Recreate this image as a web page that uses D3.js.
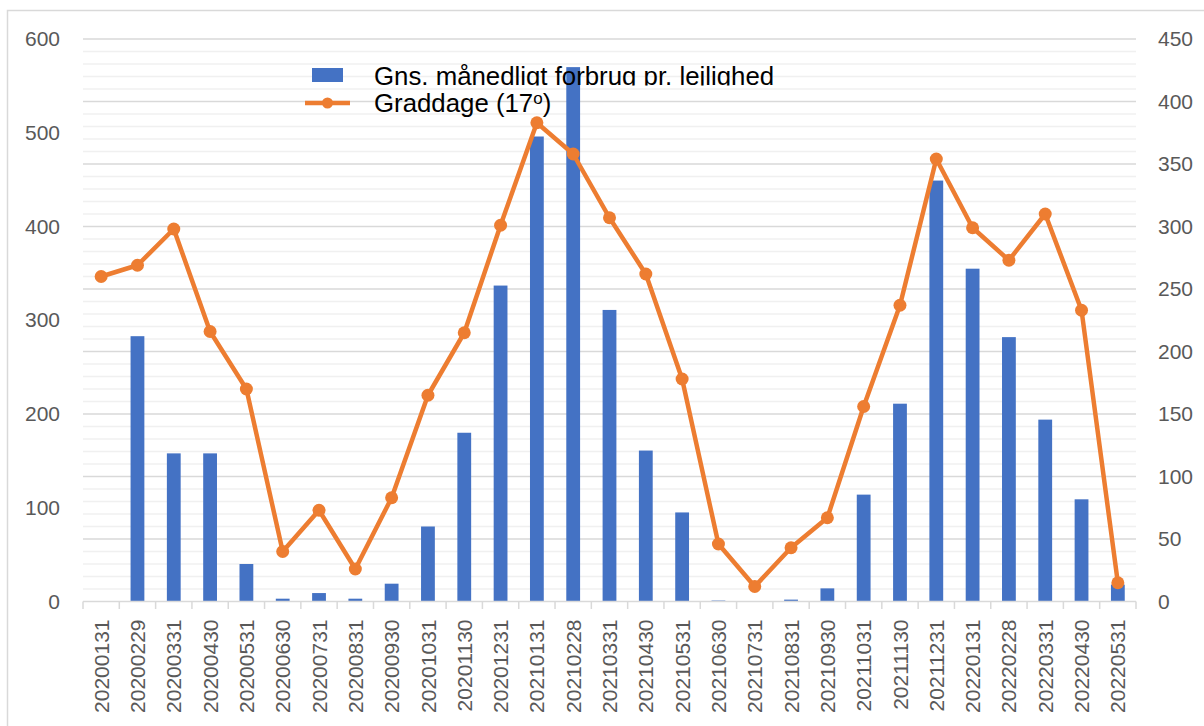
<!DOCTYPE html>
<html>
<head>
<meta charset="utf-8">
<script src="https://cdn.jsdelivr.net/npm/d3@7"></script>
<style>
  body { margin: 0; background: #fff; }
  svg { display: block; font-family: "Liberation Sans", Arial, sans-serif; }
</style>
</head>
<body>
<div id="chart"></div>
<script>
// data
const dates = ["20200131", "20200229", "20200331", "20200430", "20200531", "20200630", "20200731",
    "20200831", "20200930", "20201031", "20201130", "20201231", "20210131", "20210228", "20210331",
    "20210430", "20210531", "20210630", "20210731", "20210831", "20210930", "20211031", "20211130",
    "20211231", "20220131", "20220228", "20220331", "20220430", "20220531"];
const forbrug = [0, 283, 158, 158, 40, 3, 9, 3, 19, 80, 180, 337,
    496, 570, 311, 161, 95, 1, 0, 2, 14, 114, 211, 449,
    355, 282, 194, 109, 18];
const graddage = [260, 269, 298, 216, 170, 40, 73, 26, 83, 165, 215, 301,
    383, 358, 307, 262, 178, 46, 12, 43, 67, 156, 237, 354,
    299, 273, 310, 233, 15];
const leftTicks = [0, 100, 200, 300, 400, 500, 600];
const rightTicks = [0, 50, 100, 150, 200, 250, 300, 350, 400, 450];
const seriesNames = ["Gns. månedligt forbrug pr. lejlighed", "Graddage (17"];

const width = 1204, height = 726;
const margin = {top: 39, right: 68, bottom: 124.5, left: 83};

const svg = d3.select("#chart").append("svg")
    .attr("width", width)
    .attr("height", height);

// outer chart border
svg.append("rect")
    .attr("x", 7.5).attr("y", 10.5)
    .attr("width", width).attr("height", height)
    .attr("fill", "none")
    .attr("stroke", "#d9d9d9")
    .attr("stroke-width", 1.5);

const x = d3.scaleBand()
    .domain(dates)
    .range([margin.left, width - margin.right])
    .paddingInner(0.62)
    .paddingOuter(0.31);

const xb = d3.scaleBand()
    .domain(dates)
    .range([margin.left, width - margin.right]);

const yL = d3.scaleLinear().domain([0, 600]).range([height - margin.bottom, margin.top]);
const yR = d3.scaleLinear().domain([0, 450]).range([height - margin.bottom, margin.top]);

// gridlines follow the secondary axis (minor every 10, major every 50)
svg.append("g")
    .selectAll("line")
    .data(yR.ticks(45).filter(d => d > 0))
    .enter()
    .append("line")
    .attr("x1", margin.left)
    .attr("x2", width - margin.right)
    .attr("y1", d => yR(d))
    .attr("y2", d => yR(d))
    .attr("stroke", d => d % 50 === 0 ? "#d9d9d9" : "#f0f0f0")
    .attr("stroke-width", 1.5);

// bars
svg.append("g")
    .selectAll("rect")
    .data(dates)
    .enter()
    .append("rect")
    .attr("x", d => x(d))
    .attr("width", x.bandwidth())
    .attr("y", (d, i) => yL(forbrug[i]))
    .attr("height", (d, i) => yL(0) - yL(forbrug[i]))
    .attr("fill", "#4472c4");

// x axis line and boundary ticks
const base = yL(0);
svg.append("line")
    .attr("x1", margin.left).attr("x2", width - margin.right)
    .attr("y1", base).attr("y2", base)
    .attr("stroke", "#d9d9d9").attr("stroke-width", 1.5);

svg.append("g")
    .selectAll("line")
    .data(dates.concat(["end"]))
    .enter()
    .append("line")
    .attr("x1", d => d === "end" ? width - margin.right : xb(d))
    .attr("x2", d => d === "end" ? width - margin.right : xb(d))
    .attr("y1", base)
    .attr("y2", base + 7.5)
    .attr("stroke", "#d9d9d9")
    .attr("stroke-width", 1.5);

svg.append("g")
    .selectAll("text")
    .data(dates)
    .enter()
    .append("text")
    .attr("transform", d => "translate(" + (xb(d) + xb.bandwidth() / 2) + "," + (base + 18) + ") rotate(-90)")
    .attr("text-anchor", "end")
    .attr("dy", "0.36em")
    .attr("font-size", 21)
    .attr("fill", "#595959")
    .text(d => d);

// left axis
const leftAxis = svg.append("g")
    .attr("transform", "translate(" + (margin.left - 23) + ",0)")
    .call(d3.axisLeft(yL).tickValues(leftTicks).tickSize(0).tickPadding(0));
leftAxis.select(".domain").remove();
leftAxis.selectAll("text")
    .attr("font-size", 21)
    .attr("font-family", "Liberation Sans, Arial, sans-serif")
    .attr("fill", "#595959");

// right axis
const rightAxis = svg.append("g")
    .attr("transform", "translate(" + (width - margin.right + 22) + ",0)")
    .call(d3.axisRight(yR).tickValues(rightTicks).tickSize(0).tickPadding(0));
rightAxis.select(".domain").remove();
rightAxis.selectAll("text")
    .attr("font-size", 21)
    .attr("font-family", "Liberation Sans, Arial, sans-serif")
    .attr("fill", "#595959");

// line
const line = d3.line()
    .x((d, i) => xb(dates[i]) + xb.bandwidth() / 2)
    .y(d => yR(d));

svg.append("path")
    .datum(graddage)
    .attr("d", line)
    .attr("fill", "none")
    .attr("stroke", "#ed7d31")
    .attr("stroke-width", 4.5)
    .attr("stroke-linejoin", "round");

svg.append("g")
    .selectAll("circle")
    .data(graddage)
    .enter()
    .append("circle")
    .attr("cx", (d, i) => xb(dates[i]) + xb.bandwidth() / 2)
    .attr("cy", d => yR(d))
    .attr("r", 6.5)
    .attr("fill", "#ed7d31");

// legend
const legend = svg.append("g");

svg.append("clipPath")
    .attr("id", "legclip")
    .append("rect")
    .attr("x", 300).attr("y", 50)
    .attr("width", 600).attr("height", 35.5);

legend.append("rect")
    .attr("x", 312).attr("y", 68)
    .attr("width", 31).attr("height", 14)
    .attr("fill", "#4472c4");

legend.append("text")
    .attr("x", 374).attr("y", 84.5)
    .attr("font-size", 25.8)
    .attr("fill", "#000")
    .attr("clip-path", "url(#legclip)")
    .text(seriesNames[0]);

legend.append("line")
    .attr("x1", 305).attr("x2", 350)
    .attr("y1", 103).attr("y2", 103)
    .attr("stroke", "#ed7d31")
    .attr("stroke-width", 4.5);

legend.append("circle")
    .attr("cx", 327.5).attr("cy", 103)
    .attr("r", 5.5)
    .attr("fill", "#ed7d31");

const t2 = legend.append("text")
    .attr("x", 374).attr("y", 112)
    .attr("font-size", 25.8)
    .attr("fill", "#000")
    .text(seriesNames[1]);
t2.append("tspan")
    .attr("font-size", 17)
    .attr("dy", -8)
    .text("o");
t2.append("tspan")
    .attr("dy", 8)
    .text(")");
</script>
</body>
</html>
